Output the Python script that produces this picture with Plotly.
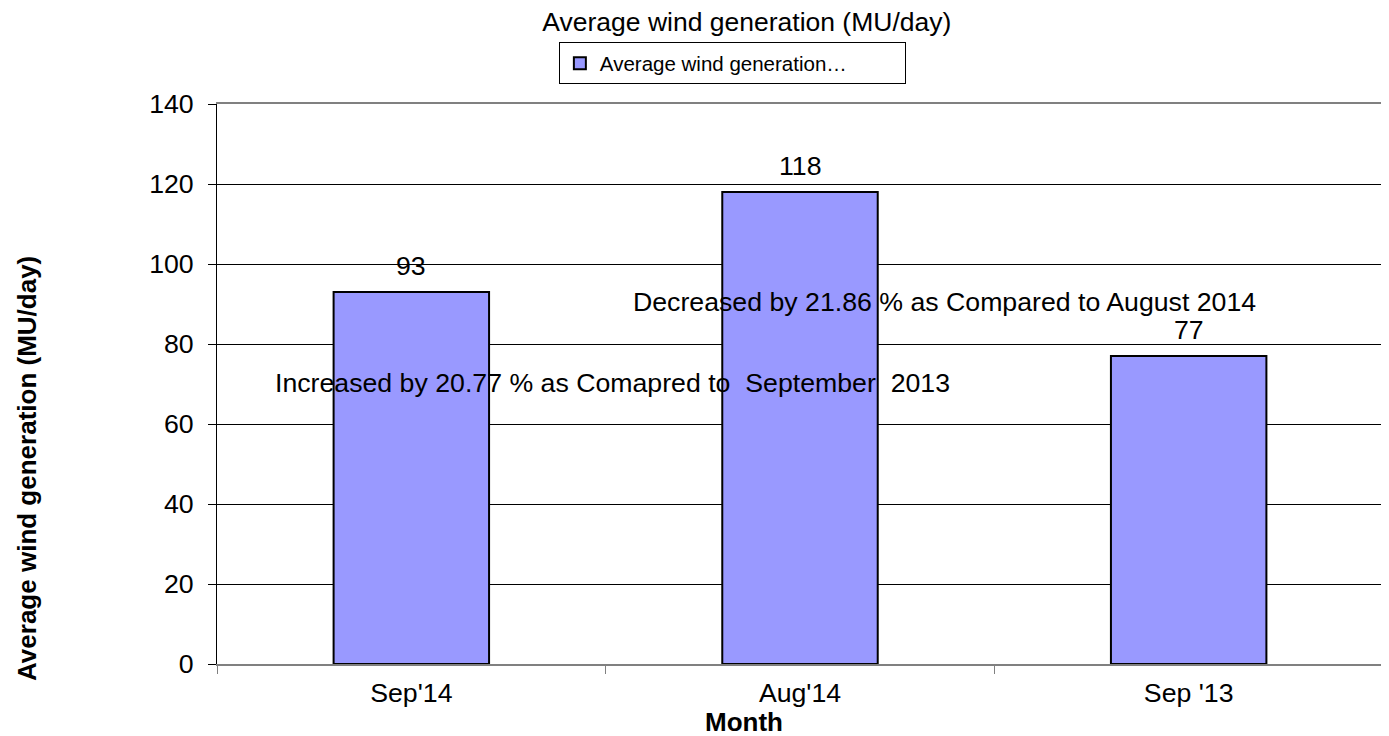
import plotly.graph_objects as go

months = ["Sep'14", "Aug'14", "Sep '13"]
values = [93, 118, 77]
labels = ["93", "118", "77"]
y_ticks = [0, 20, 40, 60, 80, 100, 120, 140]

FONT = "Liberation Sans, Arial, sans-serif"
FS = 26.7

fig = go.Figure()
fig.add_trace(go.Bar(
    x=months, y=values, name="Average wind generation…",
    width=0.4,
    marker=dict(color="#9999FF", line=dict(color="black", width=2)),
    showlegend=True,
))

fig.update_layout(
    width=1381, height=728,
    margin=dict(l=209, r=6, t=96, b=72),
    paper_bgcolor="white", plot_bgcolor="white",
    font=dict(family=FONT, color="black", size=20),
    title=dict(text="Average wind generation (MU/day)", x=0.535, xanchor="center",
               y=1 - 14 / 728, yanchor="middle", yref="container",
               font=dict(size=26.5, family=FONT, color="black")),
    showlegend=True,
    legend=dict(x=0.442, xanchor="center", y=1.11, yanchor="top",
                orientation="h", entrywidth=300,
                bordercolor="black", borderwidth=1, bgcolor="white",
                font=dict(size=20.5, family=FONT, color="black"),
                itemwidth=30),
    bargap=0.6,
)

fig.update_xaxes(
    showline=True, linecolor="#808080", linewidth=2, mirror=True,
    ticks="outside", tickson="boundaries", ticklen=8, tickcolor="#808080",
    ticklabelstandoff=4,
    tickfont=dict(size=FS, family=FONT, color="black"),
    showgrid=False,
)
fig.update_yaxes(
    range=[0, 140], tickvals=y_ticks, showline=True, linecolor="black", linewidth=1,
    ticks="outside", ticklen=8, tickcolor="black", ticklabelstandoff=9,
    tickfont=dict(size=FS, family=FONT, color="black"),
    showgrid=True, gridcolor="black", gridwidth=1, zeroline=False,
)

# right border in gray
fig.add_shape(type="line", xref="paper", yref="paper", x0=1, x1=1, y0=0, y1=1,
              line=dict(color="#808080", width=2))

# data labels above bars
for m, v, t in zip(months, values, labels):
    fig.add_annotation(x=m, y=v, text=t, showarrow=False, yanchor="middle", yshift=26,
                       font=dict(size=FS, family=FONT, color="black"))

# axis titles (positioned as in the reference)
fig.add_annotation(text="<b>Month</b>", xref="paper", yref="paper", x=0.452, y=-0.1036,
                   showarrow=False, yanchor="middle",
                   font=dict(size=26, family=FONT, color="black"))
fig.add_annotation(text="<b>Average wind generation (MU/day)</b>", xref="paper", yref="paper",
                   x=-0.163, y=0.35, textangle=-90, showarrow=False,
                   xanchor="center", yanchor="middle",
                   font=dict(size=26, family=FONT, color="black"))

fig.add_annotation(text="Decreased by 21.86 % as Compared to August 2014",
                   xref="paper", yref="paper", x=0.624, y=0.677, showarrow=False,
                   font=dict(size=FS, family=FONT, color="black"))
fig.add_annotation(text="Increased by 20.77 % as Comapred to  September  2013",
                   xref="paper", yref="paper", x=0.339, y=0.502, showarrow=False,
                   font=dict(size=FS, family=FONT, color="black"))

fig.write_html("out.html")
